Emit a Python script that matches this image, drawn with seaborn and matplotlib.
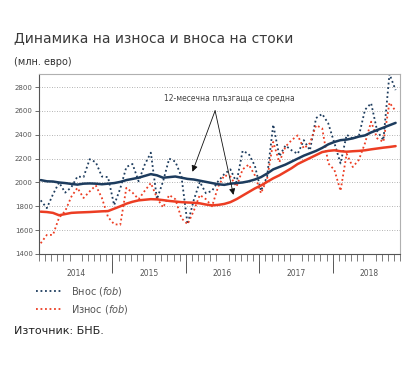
import numpy as np
import pandas as pd
import matplotlib
matplotlib.use('Agg')
import matplotlib.pyplot as plt
import seaborn as sns

# месечни данни, януари 2014 - ноември 2018 (млн. евро)
vnos = [1850, 1785, 1900, 2000, 1915, 1960, 2050, 2045, 2195, 2170, 2050, 2045,
        1810, 1950, 2130, 2155, 2010, 2150, 2250, 1860, 2010, 2200, 2175, 2050,
        1650, 1850, 2005, 1910, 1930, 2010, 2070, 2110, 2000, 2265, 2240, 2140,
        1930, 2050, 2485, 2220, 2310, 2270, 2240, 2355, 2270, 2540, 2575, 2495,
        2330, 2160, 2400, 2370, 2390, 2610, 2665, 2430, 2355, 2910, 2775]
iznos = [1490, 1560, 1560, 1705, 1760, 1880, 1955, 1870, 1925, 1975, 1870, 1710,
         1650, 1645, 1955, 1915, 1860, 1930, 1995, 1870, 1790, 1895, 1860, 1700,
         1650, 1760, 1895, 1860, 1800, 1965, 2060, 2050, 1965, 2110, 2150, 2060,
         1910, 2030, 2340, 2170, 2300, 2355, 2395, 2285, 2330, 2480, 2455, 2160,
         2105, 1930, 2240, 2130, 2190, 2330, 2510, 2370, 2340, 2670, 2600]
vnos_ma = [2020, 2010, 2008, 2000, 1995, 1988, 1982, 1990, 1992, 1990, 1985, 1990,
           1995, 2005, 2020, 2030, 2040, 2055, 2070, 2060, 2040, 2045, 2050, 2040,
           2030, 2025, 2015, 2005, 1995, 1985, 1980, 1990, 1995, 2000, 2010, 2025,
           2045, 2075, 2110, 2130, 2150, 2175, 2200, 2225, 2245, 2265, 2290, 2320,
           2340, 2355, 2360, 2370, 2385, 2395, 2420, 2440, 2460, 2480, 2500]
iznos_ma = [1755, 1752, 1745, 1725, 1735, 1745, 1748, 1750, 1752, 1755, 1758, 1760,
            1780, 1800, 1822, 1838, 1850, 1855, 1860, 1858, 1852, 1845, 1840, 1835,
            1832, 1830, 1825, 1815, 1808, 1812, 1820, 1835, 1860, 1890, 1920, 1950,
            1975, 2005, 2035, 2060, 2090, 2120, 2155, 2180, 2205, 2230, 2255, 2265,
            2270, 2262, 2258, 2262, 2265, 2270, 2278, 2285, 2292, 2298, 2305]
years = ['2014', '2015', '2016', '2017', '2018']
yticks = [1400, 1600, 1800, 2000, 2200, 2400, 2600, 2800]

BLUE = '#1d3c5e'
RED = '#ec3d23'

df = pd.DataFrame({'m': np.arange(len(vnos)), 'vnos': vnos, 'iznos': iznos,
                   'vnos_ma': vnos_ma, 'iznos_ma': iznos_ma})

sns.set_style('white')
plt.rcParams['font.family'] = ['DejaVu Sans']

fig = plt.figure(figsize=(4.2, 3.74), dpi=100)
ax = fig.add_axes([39 / 420, 120 / 374, 361 / 420, 180 / 374])

sns.lineplot(data=df, x='m', y='vnos', ax=ax, color=BLUE, lw=1.3,
             linestyle=(0, (1, 1.5)), label='Внос ($\\it{fob}$)')
sns.lineplot(data=df, x='m', y='iznos', ax=ax, color=RED, lw=1.3,
             linestyle=(0, (1, 1.5)), label='Износ ($\\it{fob}$)')
sns.lineplot(data=df, x='m', y='vnos_ma', ax=ax, color=BLUE, lw=1.8, legend=False)
sns.lineplot(data=df, x='m', y='iznos_ma', ax=ax, color=RED, lw=1.8, legend=False)

off = 0.28
ax.set_xlim(-off, len(vnos) - off)
ax.set_ylim(1400, 2910)
ax.set_xlabel('')
ax.set_ylabel('')

ax.set_yticks(yticks)
ax.tick_params(axis='y', labelsize=5, colors='#555555', length=3, width=0.6,
               left=True, pad=1.5)
for y in yticks[1:]:
    ax.axhline(y, color='#9a9a9a', lw=0.6, ls=(0, (1, 2)), zorder=0)

# месеци и години
ax.set_xticks(np.arange(len(vnos) + 1) - off, minor=True)
ax.set_xticks([12 * k + 6 - off for k in range(len(years))])
ax.set_xticklabels(years)
ax.tick_params(axis='x', which='minor', length=5, width=0.6, color='#666666',
               bottom=True, direction='out')
ax.tick_params(axis='x', which='major', length=0, labelsize=5.5,
               colors='#555555', pad=11)
sec = ax.secondary_xaxis('bottom')
sec.set_xticks([12 * k - off for k in range(1, len(years))])
sec.tick_params(axis='x', length=14, width=0.7, color='#555555', labelbottom=False)
sec.spines['bottom'].set_visible(False)

for s in ['left', 'bottom']:
    ax.spines[s].set_color('#555555')
    ax.spines[s].set_linewidth(0.8)
for s in ['top', 'right']:
    ax.spines[s].set_color('#b0b0b0')
    ax.spines[s].set_linewidth(0.8)

# стрелки към плъзгащите се средни
ax.text(30.8, 2702, '12-месечна плъзгаща се средна', fontsize=5.5,
        color='#444444', ha='center', va='center')
apex = (28.5, 2602)
for tip in [(24.8, 2090), (31.5, 1896)]:
    ax.annotate('', xy=tip, xytext=apex,
                arrowprops=dict(arrowstyle='-|>', color='#111111', lw=0.6,
                                mutation_scale=9, shrinkA=0, shrinkB=0))

handles, labels = ax.get_legend_handles_labels()
ax.get_legend().remove()
fig.legend(handles, labels, loc='upper left', bbox_to_anchor=(36 / 420, 1 - 285 / 374),
           frameon=False, fontsize=7, handlelength=2.6, handletextpad=1.0,
           labelspacing=0.55, borderpad=0, borderaxespad=0, labelcolor='#555555')

fig.text(14 / 420, 1 - 38 / 374, 'Динамика на износа и вноса на стоки',
         fontsize=10, color='#3a3a3a', va='center', ha='left')
fig.text(14 / 420, 1 - 62 / 374, '(млн. евро)', fontsize=7, color='#333333',
         va='center', ha='left')
fig.text(14 / 420, 1 - 331 / 374, 'Източник: БНБ.', fontsize=8, color='#222222',
         va='center', ha='left')

fig.savefig('out.png', dpi=100)
